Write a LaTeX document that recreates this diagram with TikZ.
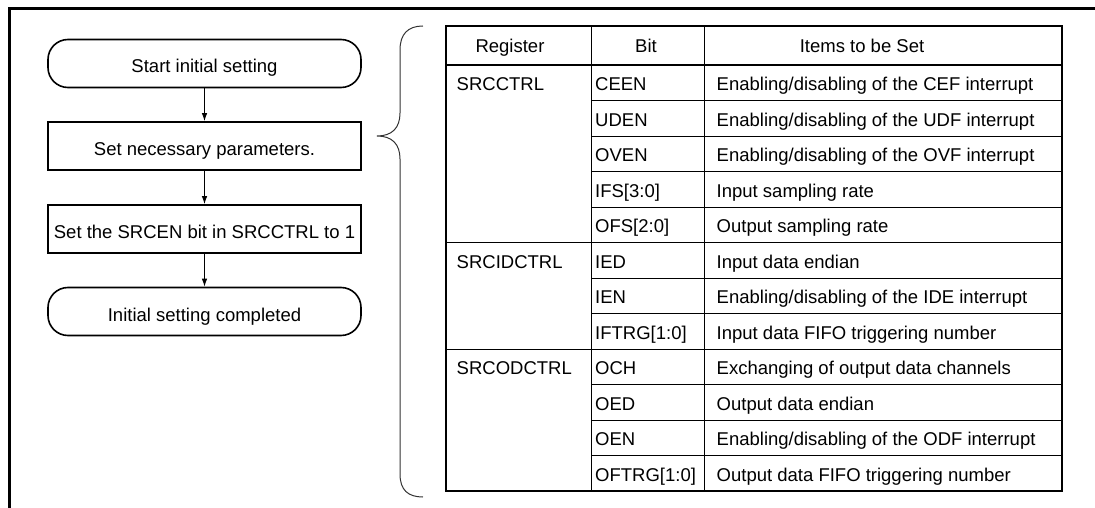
\documentclass[tikz,border=0pt]{standalone}
\usepackage{fontspec}
\setmainfont{Liberation Sans}
\usetikzlibrary{arrows.meta}
\tikzset{
  term/.style={draw, line width=1.6pt, rounded corners=20pt, minimum width=313pt, minimum height=48pt, inner sep=0pt, text height=19pt, text depth=0pt},
  proc/.style={draw, line width=1.8pt, minimum width=313pt, minimum height=48pt, inner sep=0pt, text height=19pt, text depth=0pt},
  flow/.style={-{Latex[length=8pt,width=5.5pt]}, line width=0.9pt},
  cell/.style={anchor=west, inner sep=0pt, text height=16pt, text depth=0pt},
  head/.style={inner sep=0pt, text height=15pt, text depth=0pt}
}
\begin{document}
\begin{tikzpicture}[x=1pt,y=-1pt,font=\fontsize{18.5}{22}\selectfont]
\useasboundingbox (0,0) rectangle (1095,508);
% frame
\draw[line width=2.5pt] (1095,8.5) -- (9.5,8.5) -- (9.5,508);
% flow chart
\node[term] (start) at (204.5,63.5) {Start initial setting};
\node[proc] (params) at (204.5,146) {Set necessary parameters.};
\node[proc] (srcen) at (204.5,229) {Set the SRCEN bit in SRCCTRL to 1};
\node[term] (done) at (204.5,311.5) {Initial setting completed};
\draw[flow] (start) -- (params);
\draw[flow] (params) -- (srcen);
\draw[flow] (srcen) -- (done);
% brace
\draw[line width=1pt, black!80] (423,26) .. controls (408,26) and (400,34) .. (400,50) -- (400,113)
  .. controls (400,128) and (392,136) .. (377,136)
  .. controls (392,136) and (400,144) .. (400,159) -- (400,474)
  .. controls (400,490) and (408,497) .. (423,497);
% table grid
\foreach \i in {1,2,3,4,6,7,9,10,11}
  \draw[line width=0.9pt] (591,65+35.5*\i) -- (1062,65+35.5*\i);
\foreach \i in {5,8}
  \draw[line width=0.9pt] (446,65+35.5*\i) -- (1062,65+35.5*\i);
\draw[line width=0.9pt] (591,26) -- (591,491);
\draw[line width=0.9pt] (704,26) -- (704,491);
\draw[line width=2pt] (446,65) -- (1062,65);
\draw[line width=2pt] (446,26) rectangle (1062,491);
% header
\node[head] (hreg) at (510,45.5) {Register};
\node[head] (hbit) at (646,45.5) {Bit};
\node[head] (hitem) at (862,45.5) {Items to be Set};
% registers
\node[cell] (reg1) at (456.5,65+35.5*0.5) {SRCCTRL};
\node[cell] (reg2) at (456.5,65+35.5*5.5) {SRCIDCTRL};
\node[cell] (reg3) at (456.5,65+35.5*8.5) {SRCODCTRL};
% bits and items
\foreach \b/\t [count=\i] in {CEEN/{Enabling/disabling of the CEF interrupt},
    UDEN/{Enabling/disabling of the UDF interrupt},
    OVEN/{Enabling/disabling of the OVF interrupt},
    IFS[3:0]/{Input sampling rate},
    OFS[2:0]/{Output sampling rate},
    IED/{Input data endian},
    IEN/{Enabling/disabling of the IDE interrupt},
    IFTRG[1:0]/{Input data FIFO triggering number},
    OCH/{Exchanging of output data channels},
    OED/{Output data endian},
    OEN/{Enabling/disabling of the ODF interrupt},
    OFTRG[1:0]/{Output data FIFO triggering number}} {
  \node[cell] (bit\i) at (595,65+35.5*\i-17.75) {\b};
  \node[cell] (item\i) at (716.5,65+35.5*\i-17.75) {\t};
}
\end{tikzpicture}
\end{document}
